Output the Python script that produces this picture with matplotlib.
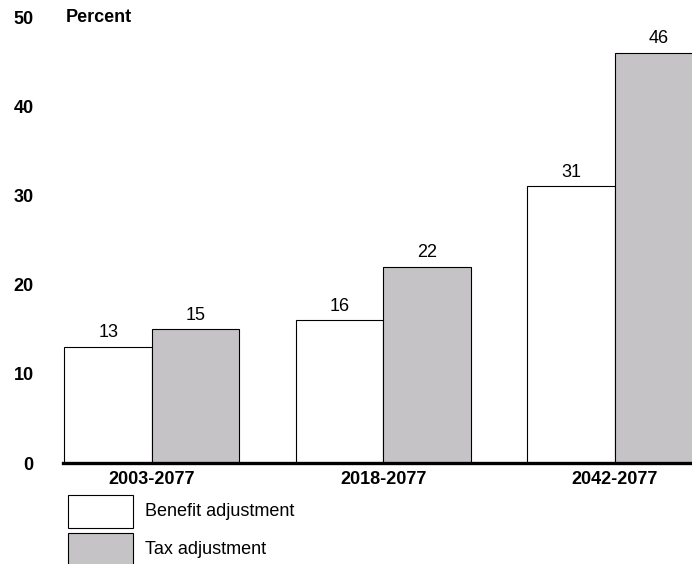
import matplotlib
matplotlib.use("Agg")
import matplotlib.pyplot as plt
from matplotlib.patches import Rectangle
import numpy as np

plt.rcParams['font.family'] = ['Liberation Sans', 'DejaVu Sans']

# Data
periods = ["2003-2077", "2018-2077", "2042-2077"]
benefit_adjustment = [13, 16, 31]
tax_adjustment = [15, 22, 46]
series_names = ["Benefit adjustment", "Tax adjustment"]
y_ticks = [0, 10, 20, 30, 40, 50]

W, H = 692, 564
fig = plt.figure(figsize=(W / 100, H / 100), dpi=100)
ax = fig.add_axes([63 / W, (H - 463) / H, (W - 63) / W, (463 - 17) / H])

grey = "#c5c3c6"
x = np.arange(len(periods))
bw = 0.378

b1 = ax.bar(x - bw / 2, benefit_adjustment, width=bw, color="white",
            edgecolor="black", linewidth=0.8, zorder=2)
b2 = ax.bar(x + bw / 2, tax_adjustment, width=bw, color=grey,
            edgecolor="black", linewidth=0.8, zorder=2)

for bars, vals in ((b1, benefit_adjustment), (b2, tax_adjustment)):
    for r, v in zip(bars, vals):
        ax.annotate(f"{v}", (r.get_x() + r.get_width() / 2, v),
                    xytext=(0, 4), textcoords="offset points",
                    ha="center", va="bottom", fontsize=13)

ax.set_xlim(-0.384, 2.333)
ax.set_ylim(0, 50)
ax.set_xticks(x)
ax.set_xticklabels(periods, fontsize=13, fontweight="bold")
ax.set_yticks(y_ticks)
ax.set_yticklabels([str(t) for t in y_ticks], fontsize=13, fontweight="bold")
ax.tick_params(axis="x", length=0, pad=6)
ax.tick_params(axis="y", length=0, pad=21)

for s in ("left", "top", "right"):
    ax.spines[s].set_visible(False)
ax.spines["bottom"].set_linewidth(2.4)
ax.spines["bottom"].set_zorder(3)

ax.text(0.005, 50, "Percent", transform=ax.get_yaxis_transform(),
        ha="left", va="center", fontsize=13, fontweight="bold")

# Legend drawn in figure pixel space
legend_rows = [(495, 528, "white"), (533, 566, grey)]
for (top, bottom, fc), name in zip(legend_rows, series_names):
    fig.add_artist(Rectangle((68 / W, (H - bottom) / H), 65 / W, (bottom - top) / H,
                             transform=fig.transFigure, facecolor=fc,
                             edgecolor="black", linewidth=0.8))
    fig.text(145 / W, (H - (top + bottom) / 2) / H, name, ha="left",
             va="center", fontsize=13)

fig.savefig("out.png", dpi=100)
